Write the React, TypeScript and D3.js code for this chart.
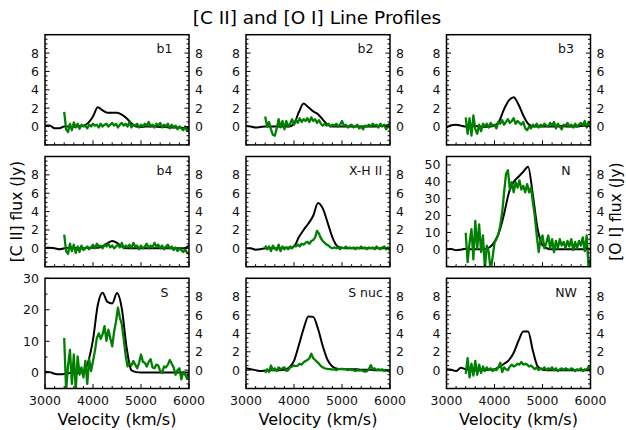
import React from "react";
import * as d3 from "d3";

// ---------- data ----------
const panelNames = ["b1", "b2", "b3", "b4", "X-H II", "N", "S", "S nuc", "NW"];
const velocityTicks = [3000, 4000, 5000, 6000];
const ciiStart = 3000; // km/s, step 100
const ciiStep = 100;
const oiStart = 3400; // km/s, step 40
const oiStep = 40;

// [C II] (left axis, Jy), 3000..6000 step 100
const ciiB1 = [0.1, 0.1, -0.2, -0.2, 0.0, 0.0, -0.05, 0.05, 0.1, 0.4, 1.1, 2.1, 1.75, 1.5, 1.5, 1.5, 1.3, 0.9, 0.35, 0.0, -0.05, 0.0, 0.0, 0.0, -0.05, -0.05, -0.1, -0.1, -0.1, -0.15, -0.15];
const ciiB2 = [0.05, 0.0, -0.1, -0.05, 0.0, 0.0, 0.0, 0.0, 0.0, 0.0, 0.3, 1.55, 2.5, 2.1, 1.65, 1.35, 0.75, 0.2, 0.0, 0.0, 0.0, 0.0, 0.0, 0.0, 0.0, 0.0, 0.0, 0.0, 0.05, 0.1, 0.3];
const ciiB3 = [-0.1, 0.15, 0.2, 0.1, 0.0, 0.0, 0.05, 0.0, -0.05, 0.0, 0.1, 0.6, 1.9, 2.85, 3.2, 2.4, 1.2, 0.3, 0.0, 0.0, 0.0, 0.0, 0.0, 0.0, 0.05, 0.0, 0.0, 0.0, 0.05, 0.1, 0.1];
const ciiB4 = [0.05, 0.05, 0.0, -0.1, 0.0, 0.05, 0.05, 0.0, 0.0, 0.05, 0.05, 0.05, 0.25, 0.55, 0.8, 0.6, 0.2, 0.0, 0.0, 0.0, 0.0, 0.0, 0.0, 0.0, 0.0, 0.0, 0.0, 0.0, 0.0, 0.0, 0.3];
const ciiXH = [0.0, 0.0, -0.15, -0.1, 0.0, 0.0, 0.0, 0.0, 0.05, 0.05, 0.2, 1.2, 2.0, 2.7, 3.55, 4.95, 4.35, 2.8, 1.2, 0.25, 0.05, 0.0, 0.0, 0.0, 0.0, 0.0, 0.0, 0.0, 0.0, 0.0, 0.0];
const ciiN = [0.0, 0.2, -0.5, -0.2, 0.3, 0.1, 0.0, 0.0, 0.2, 1.2, 4.5, 10.5, 21, 33.5, 40, 43, 46, 49, 32, 12, 2.5, 0.5, 0.0, 0.0, 0.0, 0.0, 0.0, 0.0, 0.0, 0.0, 0.0];
const ciiS = [0.3, 0.2, -0.3, -0.5, -0.4, -0.1, 0.0, 0.0, 0.4, 3.5, 10.5, 21.5, 25.4, 22.5, 22.0, 25.3, 20.4, 8.0, 0.8, 0.2, 0.1, 0.1, 0.1, 0.1, 0.1, 0.1, 0.1, 0.1, 0.1, 0.1, 0.1];
const ciiSnuc = [0.2, 0.1, 0.0, -0.1, -0.05, 0.0, 0.0, 0.0, 0.05, 0.3, 1.0, 2.7, 4.5, 5.85, 5.8, 4.5, 2.6, 1.1, 0.4, 0.15, 0.1, 0.1, 0.1, 0.1, 0.05, 0.05, 0.05, 0.0, 0.0, 0.0, 0.0];
const ciiNW = [0.1, 0.05, -0.1, 0.25, 0.1, 0.0, 0.0, 0.0, 0.0, 0.05, 0.1, 0.35, 0.7, 1.1, 1.9, 3.2, 4.2, 4.2, 2.1, 0.4, 0.05, 0.0, 0.0, 0.0, 0.0, 0.0, 0.0, 0.0, 0.0, 0.0, 0.0];

// [O I] (right axis, Jy), 3400..6000 step 40
const oiB1 = [
  1.6, -0.3, -0.6, 0.3, -0.4, 0.45, -0.1, 0.3, -0.25, 0.2, 0.0,
  0.1, -0.2, 0.2, 0.0, 0.3, 0.1, 0.2, -0.1, 0.3, 0.0, 0.2,
  0.3, 0.0, 0.2, 0.4, 0.1, 0.3, -0.1, 0.2, 0.4, 0.1, 0.3,
  0.0, 0.5, -0.1, 0.2, 0.1, 0.3, -0.1, 0.2, 0.0, 0.3, 0.1,
  0.5, 0.0, 0.2, -0.1, 0.3, 0.1, 0.4, -0.1, 0.2, 0.0, 0.3,
  -0.2, 0.2, -0.1, 0.1, -0.3, 0.0, -0.2, -0.4, 0.0, -0.5, -0.3,
];
const oiB2 = [
  1.1, 0.0, 0.5, -0.3, -0.9, -1.0, -0.2, 0.8, -0.1, 0.6, -0.3,
  0.6, 0.0, 0.3, 0.8, 0.2, 0.7, 0.4, 0.9, 0.5, 0.8, 0.6,
  0.9, 0.5, 1.0, 0.6, 0.8, 0.4, 0.7, 0.3, 0.1, 0.3, 0.1,
  0.3, 0.0, 0.2, 0.1, 0.3, 0.0, 0.2, 0.6, 0.1, 0.2, -0.1,
  0.1, 0.2, -0.1, 0.0, 0.2, -0.2, 0.0, -0.3, 0.1, 0.0, 0.2,
  0.0, 0.3, 0.1, 0.2, -0.1, 0.3, 0.0, 0.2, -0.3, 0.1, -0.2,
];
const oiB3 = [
  1.0, -0.8, 0.9, -1.0, 1.2, -0.3, -0.8, 0.2, -0.5, 0.3, 0.0,
  0.3, -0.1, 0.4, 0.1, 0.2, -0.2, 0.5, 0.3, 0.7, 0.2, 0.5,
  0.8, 0.4, 0.6, 0.9, 0.3, 0.6, 0.4, 0.2, 0.5, -0.2, -0.4,
  0.0, -0.2, 0.2, 0.0, 0.3, -0.1, 0.2, 0.0, 0.3, 0.1, 0.0,
  0.4, 0.1, 0.5, -0.2, 0.3, 0.0, -0.3, 0.2, 0.1, 0.4, 0.0,
  0.2, -0.1, 0.3, 0.0, 0.2, 0.4, 0.1, 0.6, -0.1, 0.5, -0.2,
];
const oiB4 = [
  1.5, -0.3, -0.6, 0.5, -0.3, 0.4, -0.5, 0.2, -0.4, 0.3, -0.2,
  0.0, 0.2, -0.1, 0.1, 0.4, 0.0, 0.5, 0.2, 0.3, 0.0, 0.4,
  0.2, 0.5, 0.1, 0.3, 0.0, 0.2, 0.4, 0.1, 0.6, 0.0, 0.3,
  0.1, 0.4, 0.0, 0.6, 0.2, 0.3, -0.1, 0.3, 0.0, 0.2, 0.5,
  0.0, 0.3, 0.1, 0.6, 0.2, 0.4, 0.0, 0.3, -0.1, 0.2, 0.4,
  0.0, 0.2, -0.2, 0.1, -0.3, 0.0, -0.2, -0.4, -0.1, -0.5, -0.6,
];
const oiXH = [
  0.3, -0.1, 0.2, -0.3, 0.3, 0.0, -0.2, 0.4, -0.3, 0.2, -0.1,
  0.1, -0.1, 0.2, 0.0, 0.3, 0.2, 0.4, 0.2, 0.5, 0.4, 0.6,
  0.7, 0.5, 0.8, 0.9, 1.2, 1.9, 1.6, 1.1, 0.8, 0.6, 0.4,
  0.3, 0.1, 0.0, 0.1, 0.0, 0.1, -0.1, 0.1, 0.0, 0.2, 0.0,
  0.1, 0.0, 0.1, -0.1, 0.1, 0.0, 0.2, 0.0, 0.1, -0.1, 0.1,
  0.0, 0.1, -0.1, 0.2, 0.0, -0.1, 0.1, 0.2, -0.1, 0.1, -0.3,
];
const oiN = [
  1.7, -1.5, 0.6, 2.1, -1.2, 3.0, 0.0, 2.6, -0.4, 1.4, -2.2,
  0.3, -0.4, -2.5, -1.0, 0.6, 1.0, 1.5, 2.5, 3.9, 6.1, 8.1,
  8.5, 6.4, 7.2, 6.1, 7.2, 6.6, 7.4, 6.4, 6.8, 6.1, 7.0,
  6.1, 6.6, 5.0, 3.5, 1.4, -0.4, 1.0, 1.4, 0.0, 0.6, 1.4,
  0.0, 1.0, -0.4, 0.8, 0.0, 1.0, 0.3, 0.7, 0.0, 0.8, 0.2,
  1.0, -0.2, 0.7, 0.0, 0.8, 0.3, 1.2, -0.3, 1.4, -2.2, -1.2,
];
const oiS = [
  3.5, -2.2, 0.5, 2.2, -1.5, 1.7, -2.2, 1.5, -0.5, 0.3, -0.8,
  1.0, -1.5, 1.2, -0.1, 1.0, 2.1, 3.5, 4.0, 3.4, 3.9, 4.8,
  3.2, 4.4, 3.5, 2.6, 4.2, 5.3, 6.8, 5.7, 5.0, 3.4, 1.6,
  0.4, 0.7, 0.5, 1.0, 0.6, 0.2, 0.8, 1.7, 0.9, 0.8, 0.4,
  0.9, 1.2, 0.3, 0.2, 0.6, 0.5, -0.1, -0.3, 0.4, 0.3, 0.6,
  1.1, 0.7, 0.3, -0.5, 0.0, 0.2, -1.0, -0.2, -0.5, -0.9, -0.3,
];
const oiSnuc = [
  -0.3, 0.1, -0.2, 0.5, 0.0, 0.2, -0.1, 0.3, 0.1, 0.2, 0.3,
  -0.1, 0.0, 0.3, 0.4, 0.5, 0.45, 0.5, 0.7, 0.6, 0.85, 1.0,
  1.1, 1.3, 1.8, 1.3, 1.1, 0.9, 0.7, 0.45, 0.3, 0.2, 0.15,
  0.1, 0.1, 0.05, 0.1, 0.0, 0.1, 0.1, 0.15, 0.1, 0.1, 0.0,
  0.1, 0.0, 0.0, -0.1, 0.0, -0.05, 0.0, -0.1, -0.15, -0.1, 0.1,
  0.55, 0.1, 0.2, 0.0, 0.1, 0.0, 0.1, -0.1, 0.0, -0.1, -0.2,
];
const oiNW = [
  -0.4, 1.3, -0.8, 0.7, -0.6, 1.0, -0.5, 0.6, -0.3, 0.4, -0.1,
  0.3, 0.0, 0.2, -0.1, 0.1, 0.0, 0.3, 0.8, -0.2, 0.3, 0.1,
  0.0, 0.4, 0.6, 0.4, 0.5, 0.7, 0.6, 0.9, 0.6, 0.7, 0.6,
  0.4, 0.5, 0.3, 0.1, 0.3, 0.0, 0.2, 0.1, 0.3, 0.0, 0.2,
  0.1, 0.3, 0.0, 0.2, -0.1, 0.1, 0.2, 0.0, 0.2, 0.1, 0.0,
  0.2, 0.1, -0.1, 0.1, 0.0, 0.2, -0.1, 0.1, 0.0, 0.4, -0.2,
];

const ciiSeries = [ciiB1, ciiB2, ciiB3, ciiB4, ciiXH, ciiN, ciiS, ciiSnuc, ciiNW];
const oiSeries = [oiB1, oiB2, oiB3, oiB4, oiXH, oiN, oiS, oiSnuc, oiNW];

// left-axis settings per panel
const defaultLeft = { domain: [-2, 10], major: [0, 2, 4, 6, 8], minor: 0.5 };
const leftAxes = [
  defaultLeft, defaultLeft, defaultLeft,
  defaultLeft, defaultLeft,
  { domain: [-10.3, 55], major: [0, 10, 20, 30, 40, 50], minor: 5 },
  { domain: [-5, 30], major: [0, 10, 20, 30], minor: 5 },
  defaultLeft, defaultLeft,
];
const rightAxis = { domain: [-2, 10], major: [0, 2, 4, 6, 8], minor: 0.5 };

// ---------- layout ----------
const W = 626;
const H = 430;
const colX = [45, 246, 446.5];
const rowY = [34.7, 156.5, 278.3];
const PW = 144;
const PH = 110.2;
const FONT = "DejaVu Sans, sans-serif";
const TICK_FS = 12.5;

function minorVals(domain: number[], step: number, majors: number[]) {
  const out: number[] = [];
  const start = Math.ceil(domain[0] / step) * step;
  for (let v = start; v <= domain[1] + 1e-9; v += step) {
    if (!majors.some((m) => Math.abs(m - v) < 1e-9)) out.push(v);
  }
  return out;
}

function Panel({ i }: { i: number }) {
  const col = i % 3;
  const row = Math.floor(i / 3);
  const x0 = colX[col];
  const y0 = rowY[row];
  const x = d3.scaleLinear().domain([3000, 6000]).range([x0, x0 + PW]);
  const la = leftAxes[i];
  const yL = d3.scaleLinear().domain(la.domain).range([y0 + PH, y0]);
  const yR = d3.scaleLinear().domain(rightAxis.domain).range([y0 + PH, y0]);
  const ciiLine = d3
    .line<number>()
    .x((_, k) => x(ciiStart + k * ciiStep))
    .y((d) => yL(d))
    .curve(d3.curveMonotoneX);
  const oiLine = d3
    .line<number>()
    .x((_, k) => x(oiStart + k * oiStep))
    .y((d) => yR(d));
  const clipId = `clip${i}`;
  const xMinor = minorVals([3000, 6000], 200, velocityTicks);
  const lMinor = minorVals(la.domain, la.minor, la.major);
  const rMinor = minorVals(rightAxis.domain, rightAxis.minor, rightAxis.major);
  const MAJ = 4.5;
  const MIN = 2.5;
  const tc = "#000";
  return (
    <g>
      <defs>
        <clipPath id={clipId}>
          <rect x={x0} y={y0} width={PW} height={PH} />
        </clipPath>
      </defs>
      <g clipPath={`url(#${clipId})`}>
        <path d={ciiLine(ciiSeries[i]) || ""} fill="none" stroke="#000" strokeWidth={2} strokeLinejoin="round" />
        <path d={oiLine(oiSeries[i]) || ""} fill="none" stroke="#008000" strokeWidth={2.3} strokeLinejoin="round" />
      </g>
      {velocityTicks.map((v) => (
        <line key={"xM" + v} x1={x(v)} x2={x(v)} y1={y0 + PH} y2={y0 + PH - MAJ} stroke={tc} strokeWidth={1} />
      ))}
      {xMinor.map((v) => (
        <line key={"xm" + v} x1={x(v)} x2={x(v)} y1={y0 + PH} y2={y0 + PH - MIN} stroke={tc} strokeWidth={1} />
      ))}
      {la.major.map((v) => (
        <line key={"lM" + v} x1={x0} x2={x0 + MAJ} y1={yL(v)} y2={yL(v)} stroke={tc} strokeWidth={1} />
      ))}
      {lMinor.map((v) => (
        <line key={"lm" + v} x1={x0} x2={x0 + MIN} y1={yL(v)} y2={yL(v)} stroke={tc} strokeWidth={1} />
      ))}
      {rightAxis.major.map((v) => (
        <line key={"rM" + v} x1={x0 + PW} x2={x0 + PW - MAJ} y1={yR(v)} y2={yR(v)} stroke={tc} strokeWidth={1} />
      ))}
      {rMinor.map((v) => (
        <line key={"rm" + v} x1={x0 + PW} x2={x0 + PW - MIN} y1={yR(v)} y2={yR(v)} stroke={tc} strokeWidth={1} />
      ))}
      <rect x={x0} y={y0} width={PW} height={PH} fill="none" stroke="#000" strokeWidth={1.5} />
      {la.major.map((v) => (
        <text key={"lt" + v} x={x0 - 6} y={yL(v) + 4.5} textAnchor="end" fontSize={TICK_FS} fontFamily={FONT} fill="#111">
          {v}
        </text>
      ))}
      {rightAxis.major.map((v) => (
        <text key={"rt" + v} x={x0 + PW + 6} y={yR(v) + 4.5} textAnchor="start" fontSize={TICK_FS} fontFamily={FONT} fill="#111">
          {v}
        </text>
      ))}
      {row === 2 &&
        velocityTicks.map((v) => (
          <text key={"xt" + v} x={x(v)} y={y0 + PH + 16} textAnchor="middle" fontSize={TICK_FS} fontFamily={FONT} fill="#111">
            {v}
          </text>
        ))}
      {row === 2 && (
        <text x={x0 + PW / 2} y={425} textAnchor="middle" fontSize={16} fontFamily={FONT} fill="#000">
          Velocity (km/s)
        </text>
      )}
      <text x={x0 + 0.83 * PW} y={y0 + 18.6} textAnchor="middle" fontSize={12.5} fontFamily={FONT} fill="#111">
        {panelNames[i]}
      </text>
    </g>
  );
}

export default function App() {
  const midY = (rowY[0] + rowY[2] + PH) / 2;
  return (
    <svg width={W} height={H} style={{ position: "absolute", left: 0, top: 0, background: "#fff" }}>
      <rect x={0} y={0} width={W} height={H} fill="#fff" />
      <text x={317} y={24} textAnchor="middle" fontSize={18.5} fontFamily={FONT} fill="#000">
        [C II] and [O I] Line Profiles
      </text>
      {panelNames.map((_, i) => (
        <Panel key={i} i={i} />
      ))}
      <text transform={`translate(22,${midY}) rotate(-90)`} textAnchor="middle" fontSize={15.5} fontFamily={FONT} fill="#000">
        [C II] flux (Jy)
      </text>
      <text transform={`translate(621,${midY}) rotate(-90)`} textAnchor="middle" fontSize={15.5} fontFamily={FONT} fill="#000">
        [O I] flux (Jy)
      </text>
    </svg>
  );
}
